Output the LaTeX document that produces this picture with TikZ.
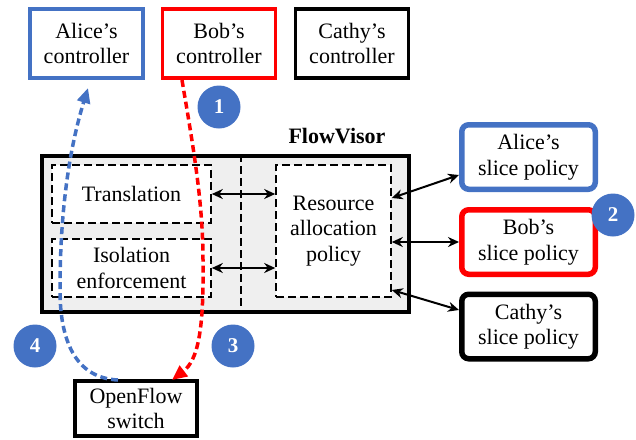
\documentclass[tikz,border=0pt]{standalone}
\usepackage{fontspec}
\setmainfont{Liberation Serif}
\usetikzlibrary{arrows.meta,calc}
\definecolor{ublue}{HTML}{4472C4}
\definecolor{ured}{HTML}{FF0000}
\definecolor{fvgray}{HTML}{EFEFEF}
\begin{document}
\begin{tikzpicture}[x=1pt,y=-1pt,
  txt/.style={font=\fontsize{22}{25.5}\selectfont,align=center,inner sep=0pt},
  ctrl/.style={txt,draw,line width=3.8pt,fill=white,minimum width=113pt,minimum height=69pt},
  slice/.style={txt,draw,line width=5.5pt,fill=white,rounded corners=7pt,minimum width=133.5pt,minimum height=64.5pt},
  inner/.style={txt,draw,dash pattern=on 8pt off 4pt,line width=1.6pt,fill=white},
  badge/.style={circle,fill=ublue,text=white,font=\fontsize{21}{21}\selectfont\bfseries,inner sep=0pt,minimum size=43pt},
  dbl/.style={line width=2pt,{Stealth[length=11pt,width=10pt]}-{Stealth[length=11pt,width=10pt]}},
  flow/.style={line width=3.5pt,dash pattern=on 7pt off 4pt}
]
\useasboundingbox (0,0) rectangle (636,439);

% controllers
\node[ctrl,draw=ublue] (ac) at (86.5,43.5) {Alice’s\\controller};
\node[ctrl,draw=ured]  (bc) at (219,43.5) {Bob’s\\controller};
\node[ctrl,draw=black] (cc) at (352,43.5) {Cathy’s\\controller};

% FlowVisor
\node[draw,line width=4pt,fill=fvgray,minimum width=367pt,minimum height=156pt,inner sep=0pt] (fv) at (225.5,234) {};
\node[font=\fontsize{22}{25}\selectfont\bfseries,inner sep=0pt] (fvl) at (337,136) {FlowVisor};
\coordinate (divtop) at (241,154);
\coordinate (divbot) at (241,314);
\draw[line width=1.6pt,dash pattern=on 8pt off 4pt] (divtop) -- (divbot);

\node[inner,minimum width=159pt,minimum height=58pt] (tr) at (131.5,194) {Translation};
\node[inner,minimum width=159pt,minimum height=58pt] (is) at (131.5,268) {Isolation\\enforcement};
\node[inner,minimum width=115pt,minimum height=132pt] (res) at (333.5,231) {Resource\\allocation\\policy};

\draw[dbl] (tr.east) -- (tr.east -| res.west);
\draw[dbl] (is.east) -- (is.east -| res.west);

% slice policies
\node[slice,draw=ublue] (as) at (528.5,157) {Alice’s\\slice policy};
\node[slice,draw=ured]  (bs) at (528.5,242) {Bob’s\\slice policy};
\node[slice,draw=black] (cs) at (528.5,326.5) {Cathy’s\\slice policy};

\draw[dbl] ([yshift=-18pt]as.west) -- ([yshift=33pt]res.east);
\draw[dbl] (bs.west) -- (bs.west -| res.east);
\draw[dbl] ([yshift=16.5pt]cs.west) -- ([yshift=-59pt]res.east);

% switch
\node[txt,draw,line width=3.8pt,fill=white,minimum width=122pt,minimum height=55pt] (sw) at (136,408.5) {OpenFlow\\switch};

% message flows
\coordinate (bluemid) at (60,290);
\coordinate (bluein) at (118,380);
\coordinate (blueend) at (88,88);
\draw[flow,draw=ublue,-{Triangle[length=15pt,width=13pt]}]
  (bluein) .. controls (75,378) and (60,340) .. (bluemid)
  .. controls (60,200) and (72,140) .. (blueend);

\coordinate (redstart) at (182,80);
\coordinate (redmid) at (203,260);
\coordinate (redend) at (172,380);
\draw[flow,draw=ured,-{Triangle[length=15pt,width=13pt]}]
  (redstart) .. controls (192,140) and (203,200) .. (redmid)
  .. controls (204,330) and (198,360) .. (redend);

% step badges
\node[badge] (b1) at (219,107) {1};
\node[badge] (b2) at (613,215) {2};
\node[badge] (b3) at (233,346) {3};
\node[badge] (b4) at (35,346) {4};
\end{tikzpicture}
\end{document}
